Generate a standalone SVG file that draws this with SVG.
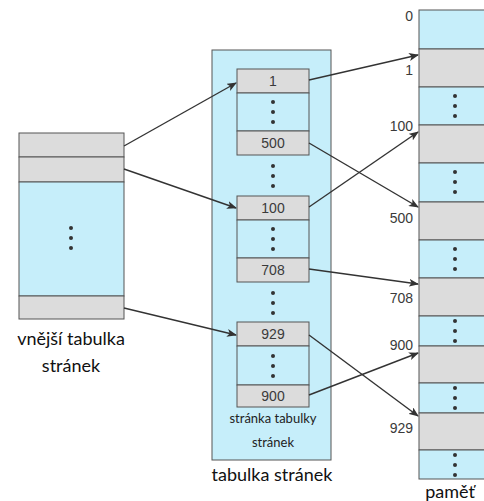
<svg xmlns="http://www.w3.org/2000/svg" width="484" height="501" viewBox="0 0 484 501">
<defs>
<style>
.b{fill:#c6eefa;stroke:#555;stroke-width:1}
.g{fill:#dcdcdc;stroke:#555;stroke-width:1}
.n{font-family:"Liberation Sans",Arial,sans-serif;font-size:14px;fill:#3a3a3a}
.c{text-anchor:middle}
.r{text-anchor:end}
.l{font-family:Lato,"Open Sans",sans-serif;font-size:18px;fill:#111;text-anchor:middle}
.s{font-family:Lato,"Open Sans",sans-serif;font-size:13px;fill:#222;text-anchor:middle}
.d{fill:#333}
.a{stroke:#333;stroke-width:1.4;fill:none;marker-end:url(#ah)}
</style>
<marker id="ah" markerWidth="10" markerHeight="8" refX="9" refY="4" orient="auto" markerUnits="userSpaceOnUse">
<path d="M0,0 L10,4 L0,8 L2.5,4 Z" fill="#333"/>
</marker>
<g id="dots"><circle cx="0" cy="-10" r="2"/><circle cx="0" cy="0" r="2"/><circle cx="0" cy="10" r="2"/></g>
</defs>
<rect width="484" height="501" fill="#fff"/>

<g id="outer-table">
<rect class="g" x="19" y="133" width="105" height="24"/>
<rect class="g" x="19" y="157" width="105" height="25"/>
<rect class="b" x="19" y="182" width="105" height="114"/>
<rect class="g" x="19" y="296" width="105" height="23"/>
<use href="#dots" x="71" y="238" class="d"/>
<text class="l" x="71" y="345">vnější tabulka</text>
<text class="l" x="71" y="372">stránek</text>
</g>

<g id="page-table">
<rect class="b" x="212" y="50" width="119" height="410"/>
<rect class="g" x="237" y="69" width="72" height="24"/>
<rect class="b" x="237" y="93" width="72" height="38"/>
<rect class="g" x="237" y="131" width="72" height="24"/>
<rect class="g" x="237" y="196" width="72" height="24"/>
<rect class="b" x="237" y="220" width="72" height="38"/>
<rect class="g" x="237" y="258" width="72" height="24"/>
<rect class="g" x="237" y="322" width="72" height="24"/>
<rect class="b" x="237" y="346" width="72" height="39"/>
<rect class="g" x="237" y="385" width="72" height="22"/>
<text class="n c" x="273" y="86">1</text>
<text class="n c" x="273" y="148">500</text>
<text class="n c" x="273" y="213">100</text>
<text class="n c" x="273" y="275">708</text>
<text class="n c" x="273" y="339">929</text>
<text class="n c" x="273" y="401">900</text>
<use href="#dots" x="273" y="112" class="d"/>
<use href="#dots" x="273" y="176" class="d"/>
<use href="#dots" x="273" y="239" class="d"/>
<use href="#dots" x="273" y="303" class="d"/>
<use href="#dots" x="273" y="366" class="d"/>
<text class="s" x="273" y="423">stránka tabulky</text>
<text class="s" x="273" y="447">stránek</text>
<text class="l" x="272" y="481">tabulka stránek</text>
</g>

<g id="memory">
<rect class="b" x="419" y="10" width="70" height="39"/>
<rect class="g" x="419" y="49" width="70" height="38"/>
<rect class="b" x="419" y="87" width="70" height="38"/>
<rect class="g" x="419" y="125" width="70" height="38"/>
<rect class="b" x="419" y="163" width="70" height="39"/>
<rect class="g" x="419" y="202" width="70" height="38"/>
<rect class="b" x="419" y="240" width="70" height="38"/>
<rect class="g" x="419" y="278" width="70" height="38"/>
<rect class="b" x="419" y="316" width="70" height="30"/>
<rect class="g" x="419" y="346" width="70" height="37"/>
<rect class="b" x="419" y="383" width="70" height="30"/>
<rect class="g" x="419" y="413" width="70" height="37"/>
<rect class="b" x="419" y="450" width="70" height="29"/>
<use href="#dots" x="455" y="106" class="d"/>
<use href="#dots" x="455" y="182" class="d"/>
<use href="#dots" x="455" y="259" class="d"/>
<use href="#dots" x="455" y="331" class="d"/>
<use href="#dots" x="455" y="398" class="d"/>
<use href="#dots" x="455" y="465" class="d"/>
<text class="n r" x="413" y="21">0</text>
<text class="n r" x="413" y="75">1</text>
<text class="n r" x="413" y="131">100</text>
<text class="n r" x="413" y="223">500</text>
<text class="n r" x="413" y="303">708</text>
<text class="n r" x="413" y="350">900</text>
<text class="n r" x="413" y="433">929</text>
<text class="l" x="450" y="498">paměť</text>
</g>

<g id="connectors">
<line class="a" x1="124" y1="146" x2="236" y2="83"/>
<line class="a" x1="124" y1="169" x2="236" y2="208"/>
<line class="a" x1="124" y1="308" x2="236" y2="335"/>
<line class="a" x1="309" y1="80" x2="418" y2="55"/>
<line class="a" x1="309" y1="143" x2="418" y2="207"/>
<line class="a" x1="309" y1="207" x2="418" y2="132"/>
<line class="a" x1="309" y1="269" x2="418" y2="284"/>
<line class="a" x1="309" y1="335" x2="418" y2="416"/>
<line class="a" x1="309" y1="395" x2="418" y2="353"/>
</g>
</svg>
